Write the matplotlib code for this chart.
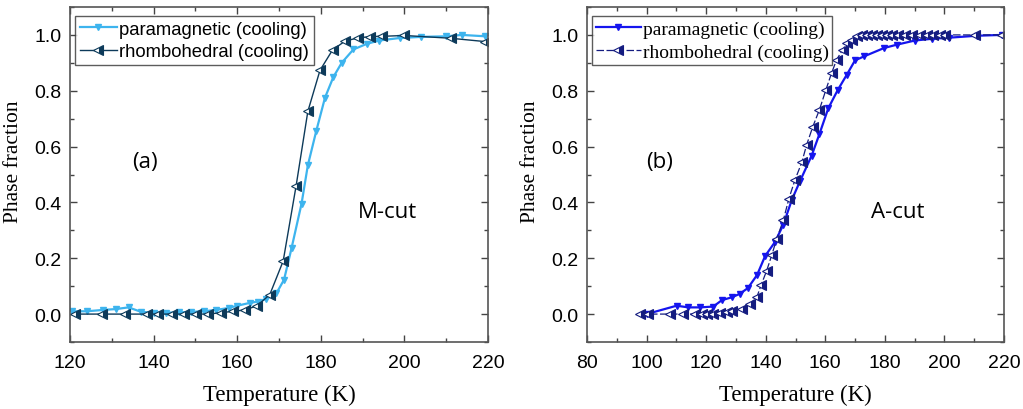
import matplotlib
matplotlib.use("Agg")
import matplotlib.pyplot as plt
from matplotlib.ticker import MultipleLocator, FormatStrFormatter

# ---- Panel (a): M-cut ----
a_para_T = [120.5, 124, 128, 131, 134, 137, 140, 143, 146, 149, 152, 155, 158, 160, 163, 165, 167,
            169.4, 171.2, 173.0, 175.4, 176.9, 178.9, 181.0, 183.0, 185, 187.8, 191, 194.0, 198.9,
            204, 210, 213.7, 219.4]
a_para_f = [0.01, 0.01, 0.015, 0.018, 0.024, 0.008, 0.005, 0.005, 0.006, 0.008, 0.01, 0.015, 0.022,
            0.03, 0.04, 0.045, 0.055, 0.075, 0.123, 0.236, 0.396, 0.533, 0.655, 0.775, 0.849, 0.90,
            0.948, 0.968, 0.980, 0.989, 0.993, 0.995, 1.0, 0.995]
a_rhom_T = [121.2, 127.6, 133.1, 138.4, 141.1, 144.3, 147.3, 150.2, 153.1, 156.1, 159.1, 161.9,
            164.8, 167.8, 171.0, 174.1, 176.9, 179.8, 182.8, 185.8, 188.8, 191.8, 194.7, 200.0,
            211.1, 219.4]
a_rhom_f = [0.0, 0.0, 0.0, 0.0, 0.0, 0.0, 0.0, 0.0, 0.0, 0.005, 0.01, 0.015, 0.03, 0.07, 0.19, 0.46,
            0.726, 0.873, 0.946, 0.978, 0.989, 0.994, 0.995, 0.998, 0.988, 0.976]

# ---- Panel (b): A-cut ----
b_para_T = [100.0, 110.1, 114, 118, 122.4, 125.3, 128.6, 131.2, 134.0, 137.1, 139.8, 143.1, 145.9,
            148.8, 151.5, 155.4, 158.0, 161.0, 164.2, 167.2, 170.0, 173.0, 179.7, 184.0, 190.1,
            195.7, 201.5, 210.8, 219.2]
b_para_f = [0.0, 0.03, 0.024, 0.024, 0.027, 0.05, 0.06, 0.072, 0.093, 0.14, 0.208, 0.258, 0.32,
            0.41, 0.476, 0.567, 0.644, 0.737, 0.803, 0.857, 0.909, 0.923, 0.953, 0.965, 0.98,
            0.986, 0.99, 0.997, 1.0]
b_rhom_T = [97.8, 100.6, 107.9, 112.3, 116.3, 118.5, 120.2, 122.4, 124.6, 126.9, 128.6, 131.9,
            134.7, 137.0, 138.5, 140.3, 142.0, 143.7, 145.9, 147.8, 149.8, 152.1, 153.7, 155.8,
            158.0, 160.2, 162.1, 163.8, 165.8, 167.4, 168.9, 170.5, 172.2, 173.9, 175.6, 177.2,
            178.9, 180.6, 182.3, 184.5, 186.7, 189.0, 191.8, 194.0, 196.3, 198.5, 200.2, 210.2,
            219.2]
b_rhom_f = [0, 0, 0, 0, 0, 0, 0, 0, 0.003, 0.007, 0.01, 0.02, 0.036, 0.06, 0.105, 0.155, 0.21,
            0.27, 0.336, 0.414, 0.48, 0.543, 0.605, 0.671, 0.731, 0.803, 0.863, 0.911, 0.947,
            0.971, 0.983, 0.995, 1.0, 1.0, 1.0, 1.0, 1.0, 1.0, 1.0, 1.0, 1.0, 1.0, 1.0, 1.0, 1.0,
            1.0, 1.0, 1.0, 1.0]

labels = ["paramagnetic (cooling)", "rhombohedral (cooling)"]
panel_tags = ["(a)", "(b)"]
cut_names = ["M-cut", "A-cut"]

fig = plt.figure(figsize=(10.23, 4.10), dpi=100)
axA = fig.add_axes([70/1023, 1-343/410, 418/1023, 335/410])
axB = fig.add_axes([587/1023, 1-343/410, 417/1023, 335/410])

SANS = "Liberation Sans"
SERIF = "Liberation Serif"
CAL = "Open Sans"

def style(ax, xlim, xmaj, ylab_x):
    ax.set_xlim(*xlim)
    ax.set_ylim(-0.1, 1.1)
    ax.xaxis.set_major_locator(MultipleLocator(xmaj))
    ax.xaxis.set_minor_locator(MultipleLocator(xmaj/2))
    ax.yaxis.set_major_locator(MultipleLocator(0.2))
    ax.yaxis.set_minor_locator(MultipleLocator(0.1))
    ax.yaxis.set_major_formatter(FormatStrFormatter("%.1f"))
    ax.tick_params(which="both", direction="in", top=True, right=True, colors="#444444",
                   labelcolor="black")
    ax.tick_params(which="major", length=5, width=1, labelsize=14)
    ax.tick_params(axis="x", which="major", pad=9)
    ax.tick_params(axis="y", which="major", pad=6)
    ax.tick_params(which="minor", length=3, width=1)
    for lab in ax.get_xticklabels() + ax.get_yticklabels():
        lab.set_fontfamily(SANS)
    for s in ax.spines.values():
        s.set_color("#555555")
        s.set_linewidth(1.2)
    ax.set_xlabel("Temperature (K)", fontfamily=SERIF, fontsize=16.5)
    ax.xaxis.set_label_coords(0.5, -0.125)
    ax.set_ylabel("Phase fraction", fontfamily=SERIF, fontsize=15.5)
    ax.yaxis.set_label_coords(ylab_x, 0.54)

# Panel a
ca1, ca2 = "#3db4ee", "#0d3a5a"
axA.plot(a_para_T, a_para_f, color=ca1, lw=1.6, marker="v", ms=4, mfc=ca1, mec=ca1,
         label=labels[0])
axA.plot(a_rhom_T, a_rhom_f, color=ca2, lw=1.0, marker="<", ms=6.5, fillstyle="right",
         mfc=ca2, mfcalt="white", mec=ca2, mew=0.8, label=labels[1])
style(axA, (120, 220), 20, -0.112)
legA = axA.legend(loc="upper left", bbox_to_anchor=(0.012, 0.973), prop={"family": SANS, "size": 13.3},
                  frameon=True, fancybox=False, edgecolor="#333333", handlelength=2.0,
                  handletextpad=0.15, borderpad=0.25, labelspacing=0.3, borderaxespad=0)
legA.get_frame().set_linewidth(1.0)
axA.text(137.9, 0.546, panel_tags[0], fontfamily=CAL, fontsize=16, ha="center", va="center")
axA.text(196, 0.368, cut_names[0], fontfamily=CAL, fontsize=16, ha="center", va="center")

# Panel b
cb1, cb2 = "#1515ee", "#141c80"
axB.plot(b_para_T, b_para_f, color=cb1, lw=1.6, marker="v", ms=4, mfc=cb1, mec=cb1,
         label=labels[0])
axB.plot(b_rhom_T, b_rhom_f, color=cb2, lw=0.9, ls=(0, (6, 2)), marker="<", ms=6.5,
         fillstyle="right", mfc=cb2, mfcalt="white", mec=cb2, mew=0.8, label=labels[1])
style(axB, (80, 220), 20, -0.113)
legB = axB.legend(loc="upper left", bbox_to_anchor=(0.012, 0.973), prop={"family": SERIF, "size": 14},
                  frameon=True, fancybox=False, edgecolor="#333333", handlelength=2.3,
                  handletextpad=0.1, borderpad=0.2, labelspacing=0.3, borderaxespad=0)
legB.get_frame().set_linewidth(1.0)
axB.text(104.5, 0.547, panel_tags[1], fontfamily=CAL, fontsize=16, ha="center", va="center")
axB.text(184.4, 0.367, cut_names[1], fontfamily=CAL, fontsize=16, ha="center", va="center")

fig.savefig("out.png", dpi=100)
